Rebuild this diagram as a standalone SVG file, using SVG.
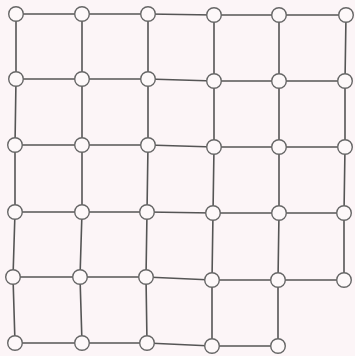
<svg xmlns="http://www.w3.org/2000/svg" width="355" height="356" viewBox="0 0 355 356">
<style>
.bg{fill:#fcf5f7}
.e{stroke:#555;stroke-width:1.6;fill:none;stroke-linecap:round}
.n{fill:#fdf8f9;stroke:#666;stroke-width:1.4}
</style>
<rect class="bg" x="0" y="0" width="355" height="356"/>
<g id="connectors">
<polyline class="e" points="16,14 82,14 148,14 214,15 279,15 346,15"/>
<polyline class="e" points="16,79 82,79 148,79 214,81 279,81 345,81"/>
<polyline class="e" points="15,145 82,145 148,145 214,147 279,147 345,147"/>
<polyline class="e" points="15,212 82,212 147,212 213,213 279,213 344,213"/>
<polyline class="e" points="13,277 80,277 146,277 212,280 278,280 344,280"/>
<polyline class="e" points="15,343 82,343 147,343 212,346 278,346"/>
<polyline class="e" points="16,14 16,79 15,145 15,212 13,277 15,343"/>
<polyline class="e" points="82,14 82,79 82,145 82,212 80,277 82,343"/>
<polyline class="e" points="148,14 148,79 148,145 147,212 146,277 147,343"/>
<polyline class="e" points="214,15 214,81 214,147 213,213 212,280 212,346"/>
<polyline class="e" points="279,15 279,81 279,147 279,213 278,280 278,346"/>
<polyline class="e" points="346,15 345,81 345,147 344,213 344,280"/>
</g>
<g id="n0-0"><circle class="n" cx="16" cy="14" r="7.3"/></g>
<g id="n0-1"><circle class="n" cx="82" cy="14" r="7.3"/></g>
<g id="n0-2"><circle class="n" cx="148" cy="14" r="7.3"/></g>
<g id="n0-3"><circle class="n" cx="214" cy="15" r="7.3"/></g>
<g id="n0-4"><circle class="n" cx="279" cy="15" r="7.3"/></g>
<g id="n0-5"><circle class="n" cx="346" cy="15" r="7.3"/></g>
<g id="n1-0"><circle class="n" cx="16" cy="79" r="7.3"/></g>
<g id="n1-1"><circle class="n" cx="82" cy="79" r="7.3"/></g>
<g id="n1-2"><circle class="n" cx="148" cy="79" r="7.3"/></g>
<g id="n1-3"><circle class="n" cx="214" cy="81" r="7.3"/></g>
<g id="n1-4"><circle class="n" cx="279" cy="81" r="7.3"/></g>
<g id="n1-5"><circle class="n" cx="345" cy="81" r="7.3"/></g>
<g id="n2-0"><circle class="n" cx="15" cy="145" r="7.3"/></g>
<g id="n2-1"><circle class="n" cx="82" cy="145" r="7.3"/></g>
<g id="n2-2"><circle class="n" cx="148" cy="145" r="7.3"/></g>
<g id="n2-3"><circle class="n" cx="214" cy="147" r="7.3"/></g>
<g id="n2-4"><circle class="n" cx="279" cy="147" r="7.3"/></g>
<g id="n2-5"><circle class="n" cx="345" cy="147" r="7.3"/></g>
<g id="n3-0"><circle class="n" cx="15" cy="212" r="7.3"/></g>
<g id="n3-1"><circle class="n" cx="82" cy="212" r="7.3"/></g>
<g id="n3-2"><circle class="n" cx="147" cy="212" r="7.3"/></g>
<g id="n3-3"><circle class="n" cx="213" cy="213" r="7.3"/></g>
<g id="n3-4"><circle class="n" cx="279" cy="213" r="7.3"/></g>
<g id="n3-5"><circle class="n" cx="344" cy="213" r="7.3"/></g>
<g id="n4-0"><circle class="n" cx="13" cy="277" r="7.3"/></g>
<g id="n4-1"><circle class="n" cx="80" cy="277" r="7.3"/></g>
<g id="n4-2"><circle class="n" cx="146" cy="277" r="7.3"/></g>
<g id="n4-3"><circle class="n" cx="212" cy="280" r="7.3"/></g>
<g id="n4-4"><circle class="n" cx="278" cy="280" r="7.3"/></g>
<g id="n4-5"><circle class="n" cx="344" cy="280" r="7.3"/></g>
<g id="n5-0"><circle class="n" cx="15" cy="343" r="7.3"/></g>
<g id="n5-1"><circle class="n" cx="82" cy="343" r="7.3"/></g>
<g id="n5-2"><circle class="n" cx="147" cy="343" r="7.3"/></g>
<g id="n5-3"><circle class="n" cx="212" cy="346" r="7.3"/></g>
<g id="n5-4"><circle class="n" cx="278" cy="346" r="7.3"/></g>
</svg>
